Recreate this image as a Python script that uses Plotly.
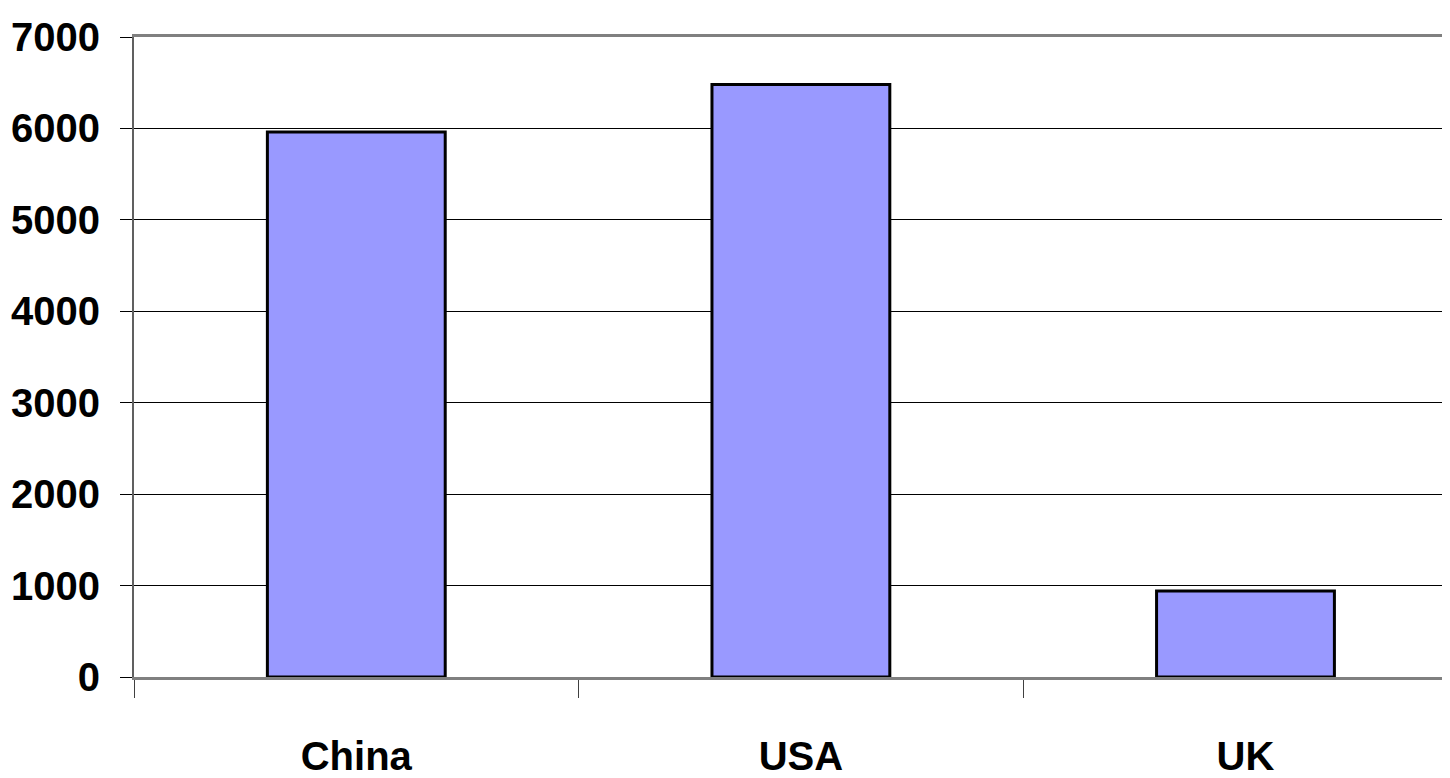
import plotly.graph_objects as go

categories = ["China", "USA", "UK"]
values = [5960, 6480, 940]
y_ticks = [0, 1000, 2000, 3000, 4000, 5000, 6000, 7000]

FONT = "Liberation Sans Narrow, Arial Narrow, Liberation Sans, Arial, sans-serif"
FSIZE = 40

fig = go.Figure(
    go.Bar(
        x=categories,
        y=values,
        width=0.4,
        marker=dict(color="#9999FF", line=dict(color="black", width=3)),
    )
)

# page body has an 8px default margin, so the figure is sized/margined to compensate
fig.update_layout(
    width=1442,
    height=770,
    margin=dict(l=126, r=0, t=29, b=101),
    paper_bgcolor="white",
    plot_bgcolor="white",
    showlegend=False,
    font=dict(family=FONT, size=FSIZE, color="black", weight="bold"),
)

fig.update_xaxes(
    type="category",
    range=[-0.5, 2.46],
    automargin=False,
    showline=True,
    mirror=True,
    linecolor="#808080",
    linewidth=3,
    ticks="outside",
    tickson="boundaries",
    ticklen=18,
    tickcolor="#404040",
    tickwidth=1,
    ticklabelstandoff=42,
    showgrid=False,
    tickfont=dict(family=FONT, size=FSIZE, color="black", weight="bold"),
)

fig.update_yaxes(
    range=[0, 7000],
    automargin=False,
    tickvals=y_ticks,
    ticktext=[str(v) for v in y_ticks],
    showline=True,
    linecolor="#606060",
    linewidth=2,
    ticks="outside",
    ticklen=12,
    tickcolor="black",
    tickwidth=1,
    ticklabelstandoff=12,
    showgrid=True,
    gridcolor="black",
    gridwidth=1,
    zeroline=False,
    tickfont=dict(family=FONT, size=FSIZE, color="black", weight="bold"),
)

fig.write_html("out.html")
